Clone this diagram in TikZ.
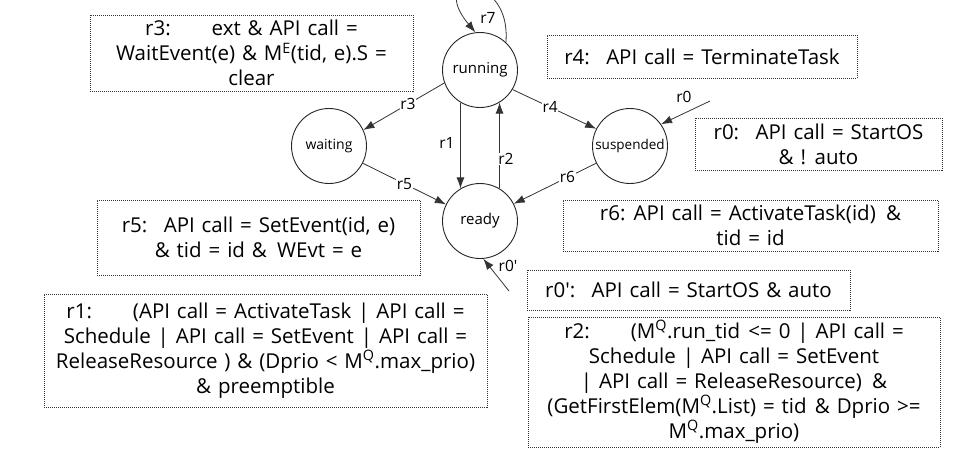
\documentclass[tikz,border=0pt]{standalone}
\usepackage{fontspec}
\setmainfont[WordSpace=1.3]{Open Sans}
\usetikzlibrary{arrows.meta}
\begin{document}
\begin{tikzpicture}[x=1pt,y=-1pt,
  state/.style={circle,draw=black!85,line width=0.9pt,minimum size=75pt,inner sep=0pt,font=\fontsize{15}{17}\selectfont},
  rulebox/.style={draw=black!80,line width=0.9pt,dash pattern=on 1pt off 1pt,inner sep=0pt,align=center,font=\fontsize{20.5}{25}\selectfont},
  arr/.style={draw=black!80,line width=0.8pt,-{Latex[length=11pt,width=8pt]}},
  lbl/.style={fill=white,inner sep=0.6pt,font=\fontsize{15.5}{17}\selectfont}
]
\path[use as bounding box] (0,0) rectangle (960,467);

% states
\node[state] (running) at (480,70) {running};
\node[state,font=\fontsize{14}{16}\selectfont] (waiting) at (329,146) {waiting};
\node[state,font=\fontsize{13.5}{15}\selectfont] (suspended) at (630,146) {suspended};
\node[state] (ready) at (480,221) {ready};

\coordinate (r0src) at (710,101);
\coordinate (r0psrc) at (509,291);

% transitions
\draw[arr] (running.200) -- node[lbl,pos=0.45] {r3} (waiting.25);
\draw[arr] (running.-31) -- node[lbl,pos=0.45] {r4} (suspended.153);
\draw[arr] (running.239) -- (ready.121);
\node[lbl] (l1) at (447,143) {r1};
\draw[arr] (ready.59) -- (running.-59);
\node[lbl] (l2) at (506,159) {r2};
\draw[arr] (waiting.-27) -- node[lbl,pos=0.5] {r5} (ready.154);
\draw[arr] (suspended.207) -- node[lbl,pos=0.35] {r6} (ready.27);
\draw[arr] (r0src) -- (suspended.35);
\node[lbl] (l0) at (684,97) {r0};
\draw[arr] (r0psrc) -- (ready.-85);
\node[lbl] (l0p) at (508,266) {r0\textquotesingle};
\draw[arr] (running.47) .. controls +(6,-70) and +(-50,-60) .. (running.97);
\node[lbl] (l7) at (488,18) {r7};

% rule boxes
\node[rulebox,minimum width=323pt,minimum height=76pt] (b3) at (251.5,53)
  {r3:\hspace{2em}ext \& API call =\\WaitEvent(e) \& M\textsuperscript{E}(tid, e).S =\\clear};
\node[rulebox,minimum width=310pt,minimum height=43pt] (b4) at (702,56.5)
  {r4:\hspace{0.8em}API call = TerminateTask};
\node[rulebox,minimum width=247pt,minimum height=52pt] (b0) at (818.5,144)
  {r0:\hspace{0.8em}API call = StartOS\\\& ! auto};
\node[rulebox,minimum width=323pt,minimum height=75pt] (b5) at (258.5,237.5)
  {r5:\hspace{0.8em}API call = SetEvent(id, e)\\\& tid = id \&\hspace{0.5em}WEvt = e};
\node[rulebox,minimum width=375pt,minimum height=51pt] (b6) at (750.5,225.5)
  {r6:\hspace{0.4em}API call = ActivateTask(id)\hspace{0.5em}\&\\tid = id};
\node[rulebox,minimum width=323pt,minimum height=40pt] (b0p) at (688.5,290)
  {r0\textquotesingle:\hspace{0.8em}API call = StartOS \& auto};
\node[rulebox,minimum width=443pt,minimum height=113pt] (b1) at (265.5,350.5)
  {r1:\hspace{2em}(API call = ActivateTask | API call =\\Schedule | API call = SetEvent | API call =\\ReleaseResource ) \& (Dprio < M\textsuperscript{Q}.max\_prio)\\\& preemptible};
\node[rulebox,minimum width=412pt,minimum height=130pt] (b2) at (734,382)
  {r2:\hspace{2em}(M\textsuperscript{Q}.run\_tid\hspace{0.4em}<= 0 | API call =\\Schedule | API call = SetEvent\\| API call = ReleaseResource)\hspace{0.5em}\&\\(GetFirstElem(M\textsuperscript{Q}.List) = tid\hspace{0.4em}\& Dprio >=\\M\textsuperscript{Q}.max\_prio)};
\end{tikzpicture}
\end{document}
